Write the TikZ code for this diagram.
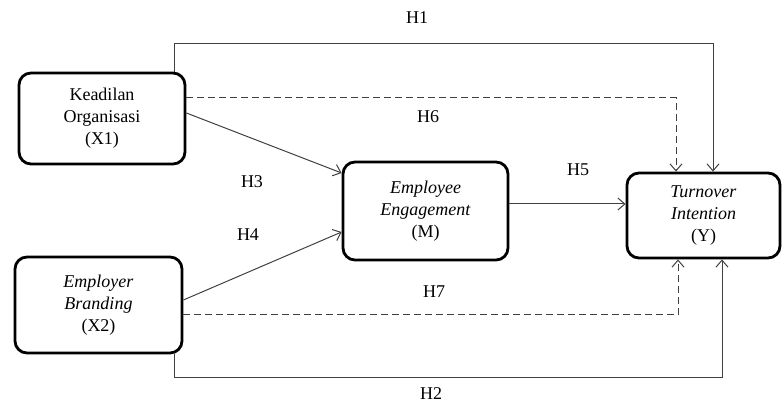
\documentclass[tikz,border=0pt]{standalone}
\usepackage{fontspec}
\setmainfont{Liberation Serif}
\usetikzlibrary{arrows.meta}
\begin{document}
\begin{tikzpicture}[x=1pt,y=-1pt,
  every node/.style={font=\fontsize{18}{22}\selectfont},
  var/.style={draw=black,line width=2.8pt,rounded corners=12pt,align=center,inner sep=0pt},
  conn/.style={draw=black!75,line width=1pt,-{Straight Barb[length=7pt,width=12pt,line width=1pt]}},
  lab/.style={inner sep=0pt}]
\useasboundingbox (0,0) rectangle (782,403);
\node[var,minimum width=166pt,minimum height=91pt] (X1) at (102,118.5) {Keadilan\\Organisasi\\(X1)};
\node[var,minimum width=167pt,minimum height=96pt] (X2) at (98.5,305) {\textit{Employer}\\\textit{Branding}\\(X2)};
\node[var,minimum width=165pt,minimum height=98pt] (M) at (425.5,211) {\textit{Employee}\\\textit{Engagement}\\(M)};
\node[var,minimum width=153pt,minimum height=85pt] (Y) at (703.5,215.5) {\textit{Turnover}\\\textit{Intention}\\(Y)};
\coordinate (h1a) at (174,44);
\coordinate (h1b) at (713,44);
\coordinate (h6) at (676,98);
\coordinate (h7) at (678,315);
\coordinate (h2a) at (174,377);
\coordinate (h2b) at (722,377);
\draw[conn] (X1.north -| h1a) -- (h1a) -- (h1b) -- (Y.north -| h1b);
\draw[conn,dashed,dash pattern=on 7pt off 4pt] (X1.east |- h6) -- (h6) -- (Y.north -| h6);
\draw[conn] ([yshift=5.5pt]X1.east) -- ([yshift=38pt]M.west);
\draw[conn] ([yshift=5pt]X2.east) -- ([yshift=-21pt]M.west);
\draw[conn] ([yshift=7pt]M.east) -- ([yshift=11.5pt]Y.west);
\draw[conn,dashed,dash pattern=on 7pt off 4pt] (X2.east |- h7) -- (h7) -- (Y.south -| h7);
\draw[conn] (X2.south -| h2a) -- (h2a) -- (h2b) -- (Y.south -| h2b);
\node[lab] (H1) at (417,18) {H1};
\node[lab] (H6) at (428,117) {H6};
\node[lab] (H3) at (252,182) {H3};
\node[lab] (H4) at (248,235) {H4};
\node[lab] (H5) at (578,170) {H5};
\node[lab] (H7) at (434,292) {H7};
\node[lab] (H2) at (431,393.5) {H2};
\end{tikzpicture}
\end{document}
